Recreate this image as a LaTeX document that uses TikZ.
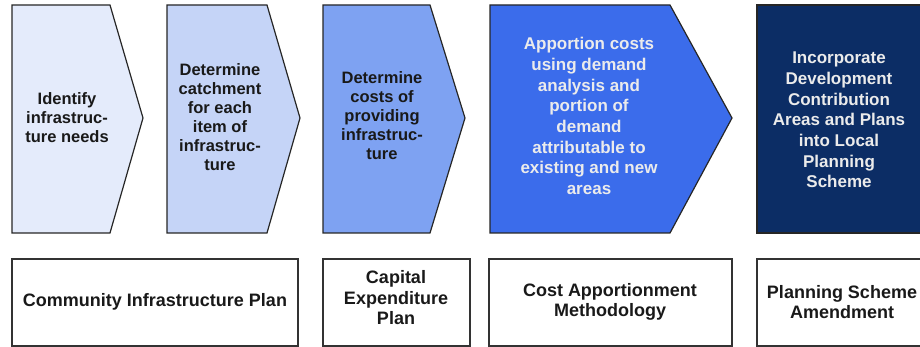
\documentclass[tikz,border=0pt]{standalone}
\usepackage{fontspec}
\setmainfont{Liberation Sans}
\usepackage{xcolor}

\definecolor{stepone}{HTML}{E4EBFB}
\definecolor{steptwo}{HTML}{C5D4F7}
\definecolor{stepthree}{HTML}{7EA2F2}
\definecolor{stepfour}{HTML}{3B6CEB}
\definecolor{stepfive}{HTML}{0C2D65}

\begin{document}
\begin{tikzpicture}[x=1pt,y=-1pt,line width=1.2pt,
  chev/.style={draw=black!85,line join=miter},
  steptext/.style={align=center,text=black!90,font=\bfseries\fontsize{16.5}{19}\selectfont},
  darktext/.style={align=center,text=white!92!black,font=\bfseries\fontsize{17}{20.7}\selectfont},
  outbox/.style={draw=black!80,line width=1.4pt},
  outtext/.style={align=center,text=black!90,font=\bfseries\fontsize{18}{20.5}\selectfont}]
  \useasboundingbox (0,0) rectangle (920,347);

  % process steps
  \draw[chev,fill=stepone]   (12,5) -- (110,5) -- (143,118) -- (110,233) -- (12,233) -- cycle;
  \draw[chev,fill=steptwo]   (167,5) -- (267,5) -- (300,118) -- (267,233) -- (167,233) -- cycle;
  \draw[chev,fill=stepthree] (323,5) -- (430,5) -- (465,118) -- (430,233) -- (323,233) -- cycle;
  \draw[chev,fill=stepfour]  (490,5) -- (670,5) -- (732,118) -- (670,233) -- (490,233) -- cycle;
  \draw[chev,fill=stepfive]  (757,5) rectangle (924,233);

  \node[steptext] (identify)   at (67,118)  {Identify\\infrastruc-\\ture needs};
  \node[steptext] (catchment)  at (220,117) {Determine\\catchment\\for each\\item of\\infrastruc-\\ture};
  \node[steptext] (costs)      at (382,116) {Determine\\costs of\\providing\\infrastruc-\\ture};
  \node[darktext] (apportion)  at (589,116) {Apportion costs\\using demand\\analysis and\\portion of\\demand\\attributable to\\existing and new\\areas};
  \node[darktext] (incorporate) at (839,120) {Incorporate\\Development\\Contribution\\Areas and Plans\\into Local\\Planning\\Scheme};

  % outputs
  \draw[outbox] (12,259) rectangle (298,346);
  \draw[outbox] (323,259) rectangle (470,346);
  \draw[outbox] (489,259) rectangle (732,346);
  \draw[outbox] (757,259) rectangle (924,346);

  \node[outtext] (cip)       at (155,302) {Community Infrastructure Plan};
  \node[outtext] (capex)     at (396,298) {Capital\\Expenditure\\Plan};
  \node[outtext] (method)    at (610,302) {Cost Apportionment\\Methodology};
  \node[outtext] (amendment) at (842,302) {Planning Scheme\\Amendment};
\end{tikzpicture}
\end{document}
